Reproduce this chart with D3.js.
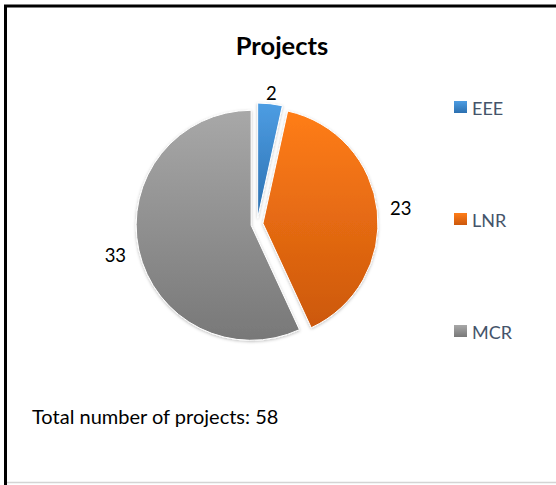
<!DOCTYPE html>
<html lang="en">
<head>
<meta charset="UTF-8">
<title>Projects</title>
<script src="https://cdn.jsdelivr.net/npm/d3@7"></script>
<style>
  body { margin: 0; background: #fff; }
  text { font-family: Lato, "Open Sans", sans-serif; }
</style>
</head>
<body>
<div id="chart"></div>
<script>
// data
var categories = ["EEE", "LNR", "MCR"];
var values = [2, 23, 33];
var totalLabel = "Total number of projects: 58";
var chartTitle = "Projects";

var colors = {
  EEE: ["#4d9de3", "#2c70b0"],
  LNR: ["#ff7d18", "#cc580c"],
  MCR: ["#a8a8a8", "#787878"]
};

var W = 556, H = 485;
var svg = d3.select("#chart").append("svg")
  .attr("width", W)
  .attr("height", H);

// frame
svg.append("path")
  .attr("d", "M5.5,485 L5.5,6 L556,6")
  .attr("fill", "none")
  .attr("stroke", "#000")
  .attr("stroke-width", 3);
svg.append("line")
  .attr("x1", 7).attr("x2", W)
  .attr("y1", 482.5).attr("y2", 482.5)
  .attr("stroke", "#d4d4d4")
  .attr("stroke-width", 1.5);

var defs = svg.append("defs");
categories.forEach(function(c){
  var g = defs.append("linearGradient")
    .attr("id", "grad-" + c)
    .attr("x1", 0).attr("y1", 0).attr("x2", 0).attr("y2", 1);
  g.append("stop").attr("offset", "0%").attr("stop-color", colors[c][0]);
  g.append("stop").attr("offset", "100%").attr("stop-color", colors[c][1]);
});
var sh = defs.append("filter").attr("id", "shadow")
  .attr("x", "-20%").attr("y", "-20%").attr("width", "140%").attr("height", "140%");
sh.append("feDropShadow")
  .attr("dx", 0).attr("dy", 1)
  .attr("stdDeviation", 1.5)
  .attr("flood-color", "#000")
  .attr("flood-opacity", 0.25);

// title
svg.append("text")
  .attr("x", 282)
  .attr("y", 55)
  .attr("text-anchor", "middle")
  .attr("font-size", 25.5)
  .attr("font-weight", "bold")
  .attr("fill", "#000")
  .text(chartTitle);

// pie
var cx = 257, cy = 224, r = 115, explode = 6;
var table = categories.map(function(c, i){ return {name: c, value: values[i]}; });
var pie = d3.pie().sort(null).value(function(d){ return d.value; });
var arc = d3.arc().innerRadius(0).outerRadius(r);
var arcs = pie(table);

var g = svg.append("g").attr("transform", "translate(" + cx + "," + cy + ")");

function dir(d){
  var a = (d.startAngle + d.endAngle) / 2;
  return [Math.sin(a), -Math.cos(a)];
}

g.selectAll("path.slice")
  .data(arcs)
  .enter().append("path")
  .attr("class", "slice")
  .attr("d", arc)
  .attr("transform", function(d){
    var v = dir(d);
    return "translate(" + (v[0] * explode) + "," + (v[1] * explode) + ")";
  })
  .attr("fill", function(d){ return "url(#grad-" + d.data.name + ")"; })
  .attr("stroke", "#fff")
  .attr("stroke-width", 1)
  .attr("filter", "url(#shadow)");

// data labels, outside end (label box touching the slice edge)
g.selectAll("text.lbl")
  .data(arcs)
  .enter().append("text")
  .attr("class", "lbl")
  .attr("font-size", 18.5)
  .attr("fill", "#000")
  .attr("text-anchor", "middle")
  .attr("dominant-baseline", "central")
  .each(function(d){
    var v = dir(d);
    var t = String(d.data.value);
    var hw = t.length * 10, hh = 7;
    var dist = r + explode + 3 + Math.abs(v[0]) * hw + Math.abs(v[1]) * hh;
    d3.select(this)
      .attr("x", v[0] * dist)
      .attr("y", v[1] * dist)
      .text(t);
  });

// legend
var ly = d3.scalePoint().domain(categories).range([107, 331]);
var leg = svg.append("g").selectAll("g")
  .data(categories)
  .enter().append("g")
  .attr("transform", function(d){ return "translate(454," + ly(d) + ")"; });
leg.append("rect")
  .attr("x", 0).attr("y", -6)
  .attr("width", 13).attr("height", 12)
  .attr("fill", function(d){ return "url(#grad-" + d + ")"; });
leg.append("text")
  .attr("x", 18)
  .attr("y", 1)
  .attr("dominant-baseline", "central")
  .attr("font-size", 18)
  .attr("fill", "#44546a")
  .text(function(d){ return d; });

// total note
svg.append("text")
  .attr("x", 32)
  .attr("y", 424)
  .attr("font-size", 20)
  .attr("fill", "#000")
  .text(totalLabel);
</script>
</body>
</html>
